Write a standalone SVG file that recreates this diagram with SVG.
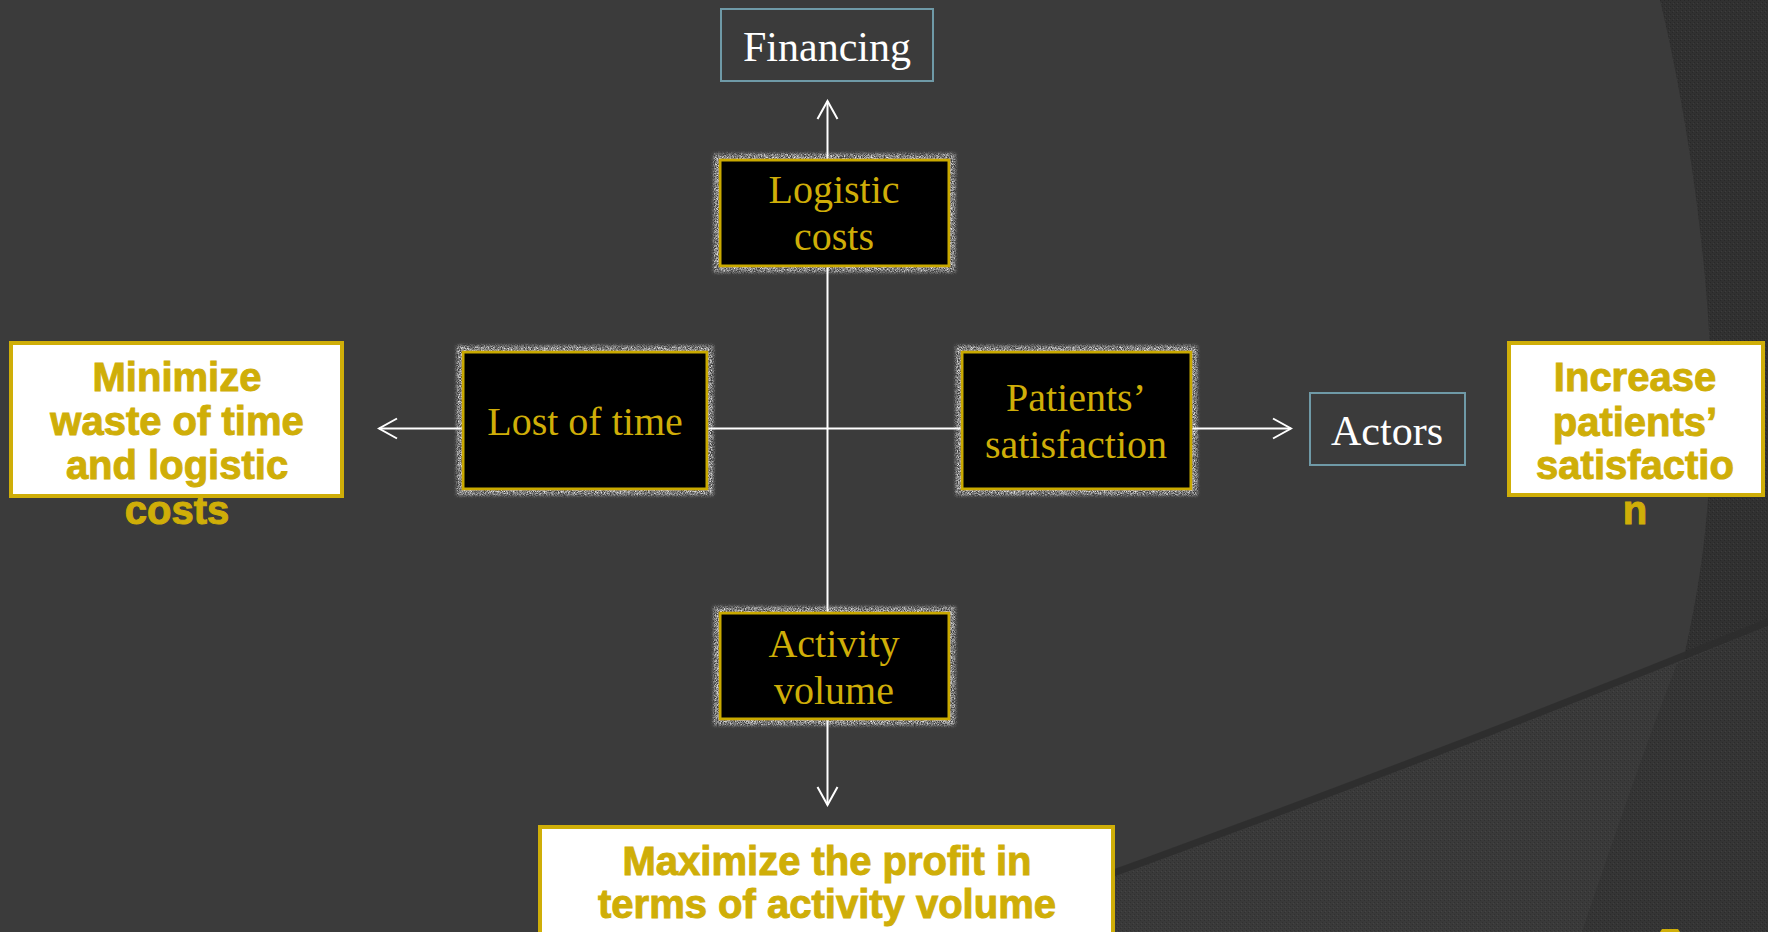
<svg xmlns="http://www.w3.org/2000/svg" width="1768" height="932" viewBox="0 0 1768 932">
  <defs>
    <style>
      .serif { font-family: "Liberation Serif", "Times New Roman", serif; text-anchor: middle; }
      .gold { fill: #cfae08; }
      .white { fill: #ffffff; }
      .bold { font-family: "Liberation Sans", Arial, sans-serif; font-weight: bold; font-size: 40px; fill: #cfae08; stroke: #cfae08; stroke-width: 1; text-anchor: middle; }
      .dark-box { fill: #000000; stroke: #c9a906; stroke-width: 3; }
      .goal-box { fill: #ffffff; stroke: #cfae08; stroke-width: 4; }
      .label-box { fill: none; stroke: #6f9aa7; stroke-width: 2; }
      .link { stroke: #ffffff; stroke-width: 2; fill: none; }
    </style>
    <!-- fine woven dot texture for the background panels -->
    <pattern id="weave" width="4" height="4" patternUnits="userSpaceOnUse">
      <rect width="4" height="4" fill="#ffffff" fill-opacity="0"/>
      <rect x="0" y="0" width="1" height="1" fill="#000000" fill-opacity="0.18"/>
      <rect x="2" y="2" width="1" height="1" fill="#000000" fill-opacity="0.18"/>
      <rect x="1" y="3" width="1" height="1" fill="#ffffff" fill-opacity="0.05"/>
    </pattern>
    <!-- grainy light halo around the black boxes -->
    <filter id="grain" x="-15%" y="-25%" width="130%" height="150%">
      <feMorphology in="SourceAlpha" operator="dilate" radius="5" result="grow"/>
      <feGaussianBlur in="grow" stdDeviation="1.8" result="soft"/>
      <feTurbulence type="fractalNoise" baseFrequency="1.3" numOctaves="1" seed="4" result="noise"/>
      <feColorMatrix in="noise" type="matrix" values="0 0 0 0 0.9  0 0 0 0 0.9  0 0 0 0 0.9  0 0 0 2.2 -0.7" result="speck"/>
      <feComposite in="speck" in2="soft" operator="in" result="halo"/>
      <feMerge>
        <feMergeNode in="halo"/>
        <feMergeNode in="SourceGraphic"/>
      </feMerge>
    </filter>
    <marker id="open-arrow" viewBox="-20 -12 22 24" refX="0" refY="0" markerWidth="22" markerHeight="24" markerUnits="userSpaceOnUse" orient="auto">
      <path d="M -18,-10 L 0,0 L -18,10" fill="none" stroke="#ffffff" stroke-width="2"/>
    </marker>
  </defs>

  <!-- background -->
  <rect width="1768" height="932" fill="#3b3b3b"/>
  <!-- darker textured area outside the large arc -->
  <path d="M1660,0 C1696,150 1718,340 1710,470 C1705,560 1694,610 1683,662 L1768,626 L1768,0 Z" fill="#313131"/>
  <path d="M1660,0 C1696,150 1718,340 1710,470 C1705,560 1694,610 1683,662 L1768,626 L1768,0 Z" fill="url(#weave)"/>
  <!-- lower sweeping band -->
  <path d="M1000,914 Q1400,771 1768,622" fill="none" stroke="#2e2e2e" stroke-width="7" opacity="0.9"/>
  <path d="M1000,918 Q1400,775 1768,626 L1768,932 L1000,932 Z" fill="#3a3a3a"/>
  <path d="M1677,664 C1640,760 1610,850 1582,932 L1768,932 L1768,626 Z" fill="#353535"/>
  <path d="M1000,918 Q1400,775 1768,626 L1768,932 L1000,932 Z" fill="url(#weave)"/>
  <path d="M1660,932 L1662,929 L1678,929 L1680,932 Z" fill="#cfae08"/>

  <!-- connectors -->
  <g id="connectors">
    <line class="link" x1="827.5" y1="159" x2="827.5" y2="101" marker-end="url(#open-arrow)"/>
    <line class="link" x1="827.5" y1="266" x2="827.5" y2="613"/>
    <line class="link" x1="827.5" y1="719" x2="827.5" y2="805" marker-end="url(#open-arrow)"/>
    <line class="link" x1="707" y1="428.5" x2="962" y2="428.5"/>
    <line class="link" x1="463" y1="428.5" x2="379" y2="428.5" marker-end="url(#open-arrow)"/>
    <line class="link" x1="1191" y1="428.5" x2="1291" y2="428.5" marker-end="url(#open-arrow)"/>
  </g>

  <g id="financing">
    <rect class="label-box" x="721" y="9" width="212" height="72"/>
    <text class="serif white" x="827" y="61" font-size="42">Financing</text>
  </g>

  <g id="logistic-costs">
    <rect class="dark-box" x="720" y="160" width="229" height="106" filter="url(#grain)"/>
    <text class="serif gold" x="834" y="203" font-size="40">Logistic</text>
    <text class="serif gold" x="834" y="250" font-size="40">costs</text>
  </g>

  <g id="lost-of-time">
    <rect class="dark-box" x="463" y="352" width="244" height="137" filter="url(#grain)"/>
    <text class="serif gold" x="585" y="435" font-size="40">Lost of time</text>
  </g>

  <g id="patients-satisfaction">
    <rect class="dark-box" x="962" y="352" width="229" height="137" filter="url(#grain)"/>
    <text class="serif gold" x="1076" y="411" font-size="40">Patients’</text>
    <text class="serif gold" x="1076" y="458" font-size="40">satisfaction</text>
  </g>

  <g id="activity-volume">
    <rect class="dark-box" x="720" y="613" width="229" height="106" filter="url(#grain)"/>
    <text class="serif gold" x="834" y="657" font-size="40">Activity</text>
    <text class="serif gold" x="834" y="704" font-size="40">volume</text>
  </g>

  <g id="actors">
    <rect class="label-box" x="1310" y="393" width="155" height="72"/>
    <text class="serif white" x="1387" y="445" font-size="42">Actors</text>
  </g>

  <g id="goal-minimize">
    <rect class="goal-box" x="11" y="343" width="331" height="153"/>
    <text class="bold" x="177" y="391">Minimize</text>
    <text class="bold" x="177" y="435">waste of time</text>
    <text class="bold" x="177" y="479">and logistic</text>
    <text class="bold" x="177" y="524">costs</text>
  </g>

  <g id="goal-increase">
    <rect class="goal-box" x="1509" y="343" width="254" height="152"/>
    <text class="bold" x="1635" y="391">Increase</text>
    <text class="bold" x="1635" y="436">patients’</text>
    <text class="bold" x="1635" y="479">satisfactio</text>
    <text class="bold" x="1635" y="524">n</text>
  </g>

  <g id="goal-maximize">
    <rect class="goal-box" x="540" y="827" width="573" height="120"/>
    <text class="bold" x="827" y="875">Maximize the profit in</text>
    <text class="bold" x="827" y="918">terms of activity volume</text>
  </g>
</svg>
